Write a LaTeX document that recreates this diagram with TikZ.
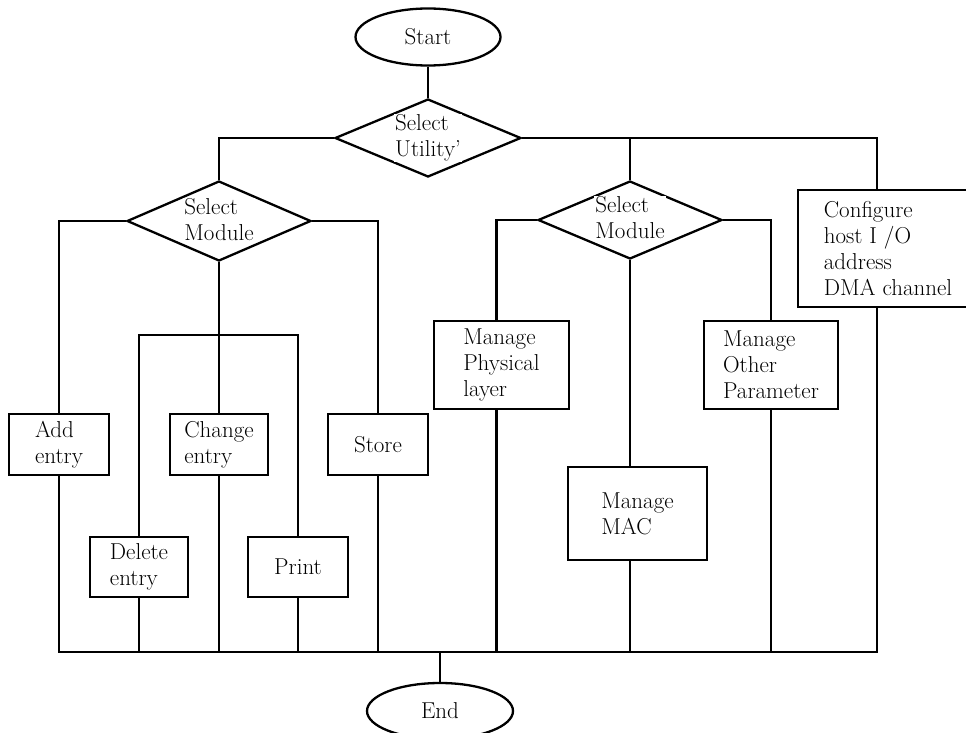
\documentclass[tikz,border=0pt]{standalone}
\usetikzlibrary{shapes.geometric}
\tikzset{
  txt/.style={font=\fontsize{23}{26}\selectfont, align=left},
  procbox/.style={draw, line width=2.3pt, txt, inner sep=0pt},
  term/.style={draw, ellipse, line width=2.3pt, txt, inner sep=0pt},
  dia/.style={draw, diamond, line width=2.3pt, inner sep=0pt},
  diatext/.style={txt, fill=white, inner sep=1pt},
  conn/.style={line width=2.3pt}
}
\begin{document}
\begin{tikzpicture}[x=1pt,y=-1pt]
\useasboundingbox (0,0) rectangle (966,733);
% terminals
\node[term, minimum width=145pt, minimum height=57pt] (start) at (428,37) {Start};
\node[term, minimum width=146pt, minimum height=56pt] (end) at (440,711) {End};
% decisions
\node[dia, minimum width=186pt, minimum height=78pt] (d1) at (428,138) {};
\node[diatext] (d1t) at (428,138) {Select\\Utility'};
\node[dia, minimum width=184pt, minimum height=80pt] (d2) at (219,221) {};
\node[diatext] (d2t) at (219,220) {Select\\Module};
\node[dia, minimum width=184pt, minimum height=78pt] (d3) at (630,220) {};
\node[diatext] (d3t) at (630,218) {Select\\Module};
% left module boxes
\node[procbox, minimum width=100pt, minimum height=61pt] (add) at (59,444.5) {Add\\entry};
\node[procbox, minimum width=98pt, minimum height=61pt] (chg) at (219,444.5) {Change\\entry};
\node[procbox, minimum width=100pt, minimum height=61pt] (sto) at (378,444.5) {Store};
\node[procbox, minimum width=98pt, minimum height=60pt] (del) at (139,567) {Delete\\entry};
\node[procbox, minimum width=100pt, minimum height=60pt] (prt) at (298,567) {Print};
% right module boxes
\node[procbox, minimum width=135pt, minimum height=88pt] (phy) at (501.5,365) {Manage\\Physical\\layer};
\node[procbox, minimum width=134pt, minimum height=88pt] (oth) at (771,365) {Manage\\Other\\Parameter};
\node[procbox, minimum width=139pt, minimum height=93pt] (mac) at (637.5,513.5) {Manage\\MAC};
\node[procbox, minimum width=180pt, minimum height=117pt] (cfg) at (888,248.5) {Configure\\host I /O\\address\\DMA channel};
% junction coordinates
\coordinate (split) at (219,335);
\coordinate (bus) at (440,652);
% connectors
\draw[conn] (start) -- (d1.north);
\draw[conn] (d1.west) -| (d2.north);
\draw[conn] (d1.east) -| (d3.north);
\draw[conn] (d1.east) -| ([xshift=80pt]cfg.north west);
\draw[conn] (d2.west) -| (add.north);
\draw[conn] (d2.east) -| (sto.north);
\draw[conn] (d2.south) -- (chg.north);
\draw[conn] (del.north) |- (split) -| (prt.north);
\draw[conn] (d3.west) -| ([xshift=-5pt]phy.north);
\draw[conn] (d3.east) -| (oth.north);
\draw[conn] (d3.south) -- (d3.south |- mac.north);
% to the bus
\draw[conn] (add.south) |- (bus);
\draw[conn] (del.south) |- (bus);
\draw[conn] (chg.south) |- (bus);
\draw[conn] (prt.south) |- (bus);
\draw[conn] (sto.south) |- (bus);
\draw[conn] ([xshift=-5pt]phy.south) |- (bus);
\draw[conn] (d3.south |- mac.south) |- (bus);
\draw[conn] (oth.south) |- (bus);
\draw[conn] ([xshift=80pt]cfg.south west) |- (bus);
\draw[conn] (bus) -- (end);
\end{tikzpicture}
\end{document}
